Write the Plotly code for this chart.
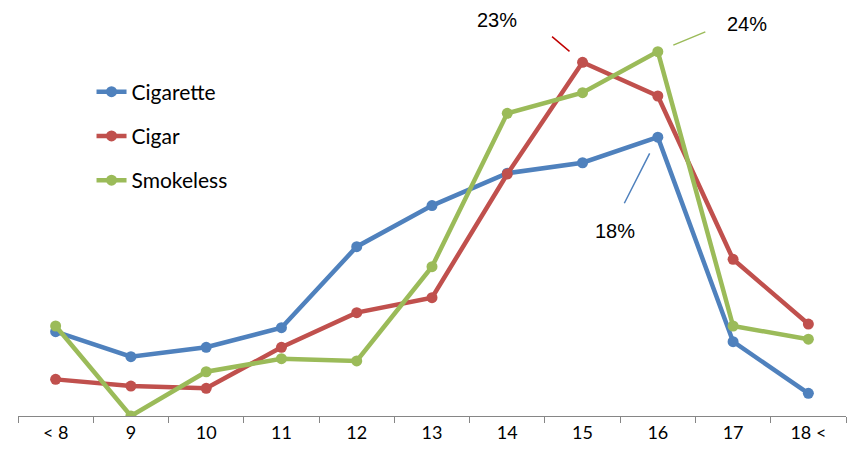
import math
import plotly.graph_objects as go

categories = ["< 8", "9", "10", "11", "12", "13", "14", "15", "16", "17", "18 <"]
cigarette = [5.55, 3.90, 4.52, 5.81, 11.14, 13.84, 15.97, 16.66, 18.34, 4.89, 1.49]
cigar = [2.41, 1.97, 1.82, 4.52, 6.80, 7.78, 15.92, 23.27, 21.05, 10.31, 6.05]
smokeless = [5.92, 0.00, 2.91, 3.77, 3.62, 9.82, 19.91, 21.27, 23.97, 5.92, 5.05]

series_names = ["Cigarette", "Cigar", "Smokeless"]
series_values = [cigarette, cigar, smokeless]
series_colors = ["#4F81BD", "#C0504D", "#9BBB59"]

fig = go.Figure()
for name, vals, col in zip(series_names, series_values, series_colors):
    fig.add_trace(go.Scatter(
        x=categories, y=vals, name=name, mode="lines+markers",
        line=dict(color=col, width=4.5),
        marker=dict(color=col, size=11),
        legendgroup=name,
    ))

# callout labels: category, value, label text, leader colour
callouts = [
    ("15", cigar[7], "23%", "#C00000"),
    ("16", smokeless[8], "24%", "#9BBB59"),
    ("16", cigarette[8], "18%", "#4F81BD"),
]
# pixel offsets from the data point: leader near end, leader far end, label centre
leader = {
    "23%": ((-13, -11), (-31, -26), (-86, -42)),
    "24%": ((16, -5), (48, -20), (89, -28)),
    "18%": ((-10, 15), (-34, 67), (-43, 94)),
}
for cat, val, txt, col in callouts:
    xi = categories.index(cat)
    (nx, ny), (fx, fy), (tx, ty) = leader[txt]
    fig.add_annotation(x=xi, y=val, xref="x", yref="y", text=" ", showarrow=True,
                       arrowhead=0, arrowwidth=1.5, arrowcolor=col,
                       ax=fx, ay=fy, standoff=math.hypot(nx, ny), startstandoff=0,
                       font=dict(size=1), borderpad=0)
    fig.add_annotation(x=xi, y=val, xref="x", yref="y", text=txt, showarrow=False,
                       xshift=tx, yshift=-ty, borderpad=0,
                       font=dict(family="Liberation Sans", size=20, color="#000000"))

fig.update_layout(
    width=855, height=457,
    margin=dict(l=10, r=17, t=0, b=49),
    paper_bgcolor="white", plot_bgcolor="white",
    font=dict(family="Lato, sans-serif", color="#000000"),
    showlegend=True,
    legend=dict(x=0.0888, y=0.8444, xanchor="left", yanchor="top",
                font=dict(family="Lato, sans-serif", size=21, color="#000000"),
                tracegroupgap=14, bgcolor="rgba(0,0,0,0)"),
    xaxis=dict(type="category", range=[-0.5, 10.5], showgrid=False,
               showline=True, linecolor="#868686", linewidth=1,
               ticks="outside", tickson="boundaries", ticklen=6, tickcolor="#868686",
               tickfont=dict(family="Lato, sans-serif", size=18, color="#000000"),
               zeroline=False, fixedrange=True),
    yaxis=dict(range=[0, 26.84], visible=False, showgrid=False, zeroline=False),
)

fig.write_html("out.html")
